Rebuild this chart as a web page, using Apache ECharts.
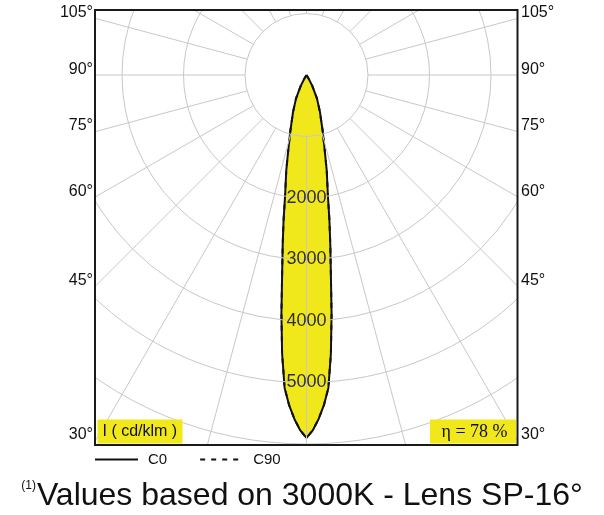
<!DOCTYPE html>
<html><head><meta charset="utf-8">
<script src="https://cdn.jsdelivr.net/npm/echarts@6/dist/echarts.min.js"></script>
<style>html,body{margin:0;padding:0;background:#fff}#c{width:604px;height:515px}</style>
</head><body><div id="c"></div>
<script>
// ---- data ----
const beamAngles   = [-32,-30,-28,-24,-20,-16,-14,-12,-10,-9,-8,-7,-6,-5,-4,-3,-2,-1,0,1,2,3,4,5,6,7,8,9,10,12,14,16,20,24,28,30,32];
const c0Intensity  = [0,80,200,420,640,960,1200,1580,2010,2380,2780,3250,3900,4550,5100,5380,5600,5780,5900,5780,5600,5380,5100,4550,3900,3250,2780,2380,2010,1580,1200,960,640,420,200,80,0];
const c90Intensity = [0,80,200,420,640,960,1200,1580,2010,2380,2780,3250,3900,4550,5100,5380,5600,5780,5900,5780,5600,5380,5100,4550,3900,3250,2780,2380,2010,1580,1200,960,640,420,200,80,0];
const ringLabels   = [2000,3000,4000,5000];
const angleLabels  = [30,45,60,75,90,105];
const seriesNames  = ['C0','C90'];
const unitText     = 'I ( cd/klm )';
const effText      = 'η = 78 %';
const noteMark     = '(1)';
const captionText  = 'Values based on 3000K - Lens SP-16°';

// ---- layout ----
const CX = 306.5, CY = 75;
const RMIN = 1000, RMAX = 7000;
const PX = 0.0615;                 // px per cd/klm
const BOX = {l: 95, r: 517.5, t: 10, b: 445};
const GRID = '#c8c8c8';
const YEL = '#f1e81c';
const FONT = '"Liberation Sans", Arial, sans-serif';

const chart = echarts.init(document.getElementById('c'), null, {renderer: 'canvas'});

const zip = (a, r) => a.map((t, i) => [r[i], t]);

const angleAxisBase = {
  type: 'value', min: -180, max: 180, interval: 15, startAngle: 90, clockwise: true
};

// angle labels at the box sides
const angleTexts = [];
angleLabels.forEach(a => {
  const t = a * Math.PI / 180;
  const dx = BOX.r - CX;
  const y = CY + dx * Math.cos(t) / Math.sin(t) - 5.5;
  angleTexts.push({type: 'text', z: 60, silent: true, style: {text: a + '°', x: BOX.l - 2, y: y, align: 'right', verticalAlign: 'middle', font: '16px ' + FONT, fill: '#111'}});
  angleTexts.push({type: 'text', z: 60, silent: true, style: {text: a + '°', x: BOX.r + 3.5, y: y, align: 'left', verticalAlign: 'middle', font: '16px ' + FONT, fill: '#111'}});
});

const option = {
  backgroundColor: '#fff',
  animation: false,
  polar: [
    {center: [CX, CY], radius: [RMIN * PX, RMAX * PX]},
    {center: [CX, CY], radius: [0, RMAX * PX]}
  ],
  angleAxis: [
    Object.assign({polarIndex: 0, z: 3,
      axisLine: {show: false}, axisTick: {show: false}, axisLabel: {show: false},
      splitLine: {show: true, lineStyle: {color: GRID, width: 1}}}, angleAxisBase),
    Object.assign({polarIndex: 1, show: false}, angleAxisBase)
  ],
  radiusAxis: [
    {polarIndex: 0, type: 'value', min: RMIN, max: RMAX, interval: 1000, z: 3,
      axisLine: {show: false}, axisTick: {show: false}, axisLabel: {show: false},
      splitLine: {show: true, lineStyle: {color: GRID, width: 1}}},
    {polarIndex: 1, type: 'value', min: 0, max: RMAX, interval: 1000, show: false}
  ],
  legend: {
    data: seriesNames, left: BOX.l - 1, top: 452, z: 70, padding: 0,
    itemWidth: 43, itemHeight: 14, itemGap: 32,
    itemStyle: {opacity: 0},
    textStyle: {fontSize: 15, color: '#111', fontFamily: FONT, padding: [0, 0, 0, 5]}
  },
  title: {
    left: 'center', top: 475, z: 70,
    text: '{sup|' + noteMark + '}{main|' + captionText + '}',
    textStyle: {
      fontWeight: 'normal',
      rich: {
        sup: {fontSize: 12, fontWeight: 'normal', color: '#111', fontFamily: FONT, verticalAlign: 'top', padding: [0, 1, 14, 0]},
        main: {fontSize: 32, fontWeight: 'normal', color: '#111', fontFamily: FONT}
      }
    }
  },
  series: [
    {
      name: seriesNames[0], type: 'line', coordinateSystem: 'polar', polarIndex: 1,
      data: zip(beamAngles, c0Intensity), symbol: 'none', z: 2,
      lineStyle: {color: '#111', width: 2},
      itemStyle: {color: '#111'},
      areaStyle: {color: YEL, opacity: 1}
    },
    {
      name: seriesNames[1], type: 'line', coordinateSystem: 'polar', polarIndex: 1,
      data: zip(beamAngles, c90Intensity), symbol: 'none', z: 2,
      lineStyle: {color: '#111', width: 2, type: [5, 6]},
      itemStyle: {color: '#111'}
    },
    {
      type: 'scatter', coordinateSystem: 'polar', polarIndex: 1, silent: true, z: 10,
      data: ringLabels.map(v => [v, 0]), symbolSize: 1,
      itemStyle: {color: 'rgba(0,0,0,0)'},
      label: {show: true, position: 'inside', formatter: p => String(p.value[0]),
        fontSize: 18, color: '#000', fontFamily: FONT}
    }
  ],
  graphic: [
    // masks outside the frame
    {type: 'rect', z: 50, silent: true, shape: {x: 0, y: 0, width: 604, height: BOX.t}, style: {fill: '#fff'}},
    {type: 'rect', z: 50, silent: true, shape: {x: 0, y: 0, width: BOX.l, height: 515}, style: {fill: '#fff'}},
    {type: 'rect', z: 50, silent: true, shape: {x: BOX.r, y: 0, width: 604 - BOX.r, height: 515}, style: {fill: '#fff'}},
    {type: 'rect', z: 50, silent: true, shape: {x: 0, y: BOX.b, width: 604, height: 515 - BOX.b}, style: {fill: '#fff'}},
    // frame
    {type: 'rect', z: 51, silent: true, shape: {x: BOX.l, y: BOX.t, width: BOX.r - BOX.l, height: BOX.b - BOX.t},
      style: {fill: 'none', stroke: '#1a1a1a', lineWidth: 2}},
    // unit box
    {type: 'rect', z: 52, silent: true, shape: {x: 97.5, y: 419.5, width: 85, height: 24}, style: {fill: YEL}},
    {type: 'text', z: 53, silent: true, style: {text: unitText, x: 102.5, y: 432, verticalAlign: 'middle', font: '16px ' + FONT, fill: '#111'}},
    // efficiency box
    {type: 'rect', z: 52, silent: true, shape: {x: 430, y: 419.5, width: 86, height: 24}, style: {fill: YEL}},
    {type: 'text', z: 53, silent: true, style: {text: effText, x: 474.5, y: 432, align: 'center', verticalAlign: 'middle', font: '18px "Liberation Serif", "Times New Roman", serif', fill: '#111'}}
  ].concat(angleTexts)
};

chart.setOption(option);
</script>
</body></html>
